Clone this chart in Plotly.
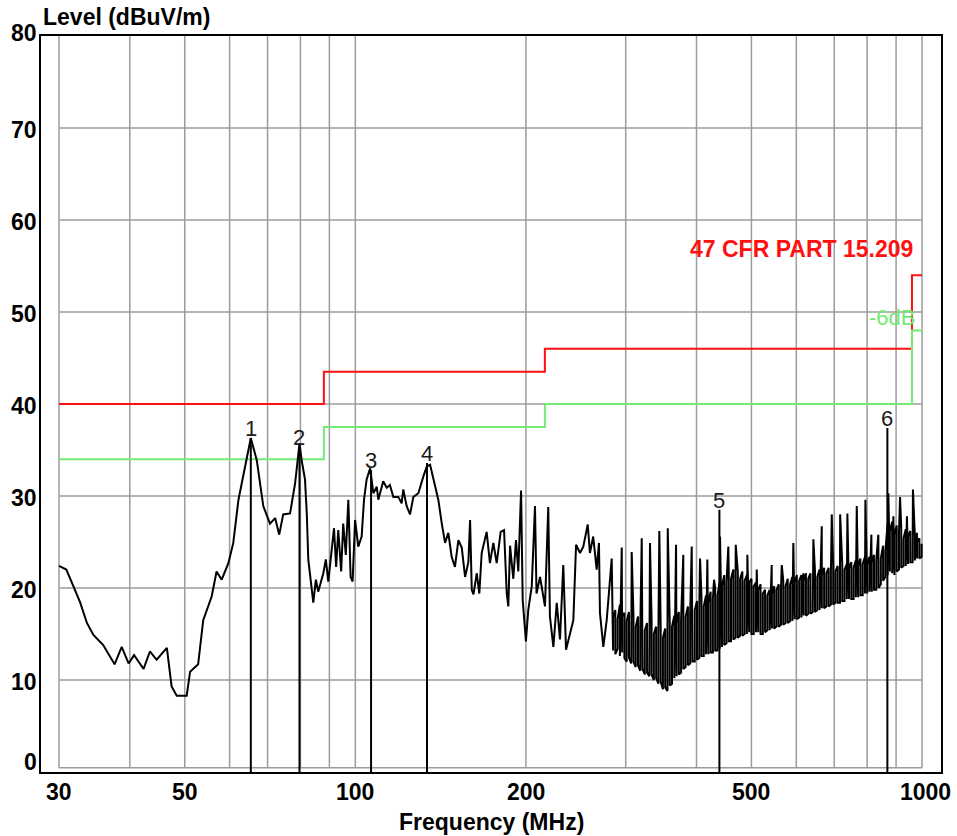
import math

import plotly.graph_objects as go

# measured trace below 285 MHz (MHz, dBuV/m), read point by point
freq_mhz = [
    30.0, 30.9, 31.8, 32.7, 33.6, 34.5, 35.9, 37.6, 38.7, 39.8, 40.7, 42.3, 43.4, 44.6, 46.5, 47.4,
    48.4, 50.4, 51.1, 52.8, 53.9, 55.8, 56.9, 58.1, 59.7, 60.9, 62.2, 63.9, 65.4, 67.0, 68.8, 70.7,
    72.2, 73.4, 74.6, 76.7, 78.3, 79.7, 80.4, 81.5, 82.1, 82.6, 83.8, 84.3, 85.2, 86.0, 87.8, 88.7,
    89.6, 90.9, 91.7, 92.5, 93.3, 94.4, 95.2, 96.2, 97.2, 98.1, 98.9, 99.9, 101.2, 102.6, 103.6, 104.7,
    106.2, 107.6, 109.1, 109.8, 112.0, 113.6, 115.1, 116.7, 119.1, 120.7, 121.5, 123.2, 124.9, 126.6, 129.2, 131.8,
    133.7, 135.5, 137.3, 138.3, 140.1, 142.1, 144.0, 145.9, 147.9, 149.9, 152.0, 154.1, 156.2, 158.3, 159.4, 160.5,
    161.6, 163.8, 165.5, 167.1, 170.5, 172.8, 175.2, 177.6, 180.5, 183.0, 185.0, 186.2, 187.5, 190.0, 192.1, 193.9,
    196.1, 197.4, 200.0, 201.9, 204.8, 207.5, 208.8, 211.8, 216.1, 219.0, 220.5, 223.6, 226.7, 229.7, 232.8, 235.4,
    239.3, 242.5, 245.2, 249.2, 252.5, 257.1, 259.4, 262.9, 266.6, 269.1, 270.2, 273.9, 277.7, 283.4,
]
level_dbuv = [
    22.4, 22.0, 20.2, 18.4, 16.2, 14.9, 13.8, 11.7, 13.6, 11.8, 12.7, 11.2, 13.1, 12.2, 13.5, 9.3,
    8.3, 8.3, 10.9, 11.7, 16.5, 19.1, 21.8, 20.9, 22.7, 24.9, 29.6, 33.2, 36.3, 33.9, 28.9, 27.0,
    27.6, 25.8, 28.0, 28.1, 31.4, 35.7, 33.9, 31.8, 28.1, 23.1, 19.4, 18.4, 20.9, 19.6, 21.6, 23.1,
    20.7, 24.5, 26.5, 22.3, 26.3, 21.8, 27.0, 23.6, 29.6, 21.2, 20.7, 27.4, 24.5, 25.6, 29.6, 31.8,
    33.0, 30.3, 31.0, 29.6, 31.6, 30.9, 31.2, 29.9, 29.9, 29.2, 30.7, 28.9, 28.0, 29.9, 30.3, 32.1,
    33.2, 33.4, 31.8, 30.9, 29.6, 27.0, 24.9, 26.0, 23.4, 22.3, 25.2, 24.4, 21.2, 22.8, 27.4, 19.8,
    19.3, 21.6, 19.4, 23.8, 26.1, 22.7, 24.9, 22.7, 26.1, 26.3, 19.4, 18.0, 24.6, 21.0, 25.2, 21.8,
    30.6, 18.7, 14.2, 17.6, 20.2, 28.9, 19.4, 21.2, 18.0, 28.8, 16.9, 13.6, 18.4, 14.4, 22.5, 13.3,
    15.1, 16.5, 24.7, 23.8, 24.5, 26.9, 23.8, 25.6, 22.0, 24.9, 17.3, 13.6, 16.5, 23.2,
]

# 285-1000 MHz: dense noise band, max / min reading per display column
band_freq = [
    285.0, 287.6, 290.3, 293.0, 295.7, 298.4, 301.2, 304.0,
    306.8, 309.6, 312.5, 315.4, 318.3, 321.2, 324.2, 327.2,
    330.2, 333.3, 336.4, 339.5, 342.6, 345.8, 349.0, 352.2,
    355.5, 358.8, 362.1, 365.5, 368.9, 372.3, 375.7, 379.2,
    382.7, 386.3, 389.8, 393.4, 397.1, 400.8, 404.5, 408.2,
    412.0, 415.8, 419.7, 423.6, 427.5, 431.5, 435.5, 439.5,
    443.6, 447.7, 451.8, 456.0, 460.2, 464.5, 468.8, 473.1,
    477.5, 481.9, 486.4, 490.9, 495.5, 500.1, 504.7, 509.4,
    514.1, 518.9, 523.7, 528.5, 533.4, 538.4, 543.4, 548.4,
    553.5, 558.6, 563.8, 569.0, 574.3, 579.6, 585.0, 590.4,
    595.9, 601.4, 607.0, 612.6, 618.3, 624.0, 629.8, 635.6,
    641.5, 647.4, 653.4, 659.5, 665.6, 671.8, 678.0, 684.3,
    690.6, 697.0, 703.5, 710.0, 716.6, 723.2, 729.9, 736.7,
    743.5, 750.4, 757.3, 764.3, 771.4, 778.6, 785.8, 793.1,
    800.4, 807.8, 815.3, 822.8, 830.4, 838.1, 845.9, 853.7,
    861.6, 869.6, 877.6, 885.8, 894.0, 902.2, 910.6, 919.0,
    927.5, 936.1, 944.8, 953.5, 962.3, 971.2, 980.2, 989.3,
    998.5,
]
band_hi = [
    16.8, 17.6, 16.6, 18.2, 16.9, 17.3, 16.4, 17.4,
    16.2, 17.0, 15.8, 16.9, 15.6, 16.6, 15.4, 16.2,
    15.2, 16.4, 15.0, 15.8, 14.8, 15.9, 14.6, 15.6,
    15.2, 16.2, 15.8, 17.0, 16.2, 17.4, 16.6, 17.8,
    16.9, 18.0, 17.2, 18.4, 17.6, 18.6, 17.8, 19.0,
    18.0, 19.2, 18.4, 19.6, 18.8, 20.0, 19.2, 20.6,
    20.2, 21.4, 20.6, 21.8, 21.0, 22.0, 21.2, 21.8,
    21.0, 21.8, 20.8, 21.4, 20.6, 21.0, 20.2, 20.6,
    19.8, 20.4, 19.4, 19.8, 19.2, 19.8, 19.4, 20.2,
    19.8, 20.4, 20.0, 20.8, 20.2, 21.0, 20.4, 21.2,
    20.6, 21.4, 20.8, 21.4, 20.8, 21.6, 21.0, 21.6,
    21.2, 21.8, 21.2, 22.0, 21.4, 22.2, 21.6, 22.2,
    21.6, 22.4, 21.8, 22.4, 21.8, 22.6, 22.0, 22.6,
    22.2, 22.8, 22.2, 23.0, 22.4, 23.2, 22.6, 23.4,
    22.6, 23.4, 22.8, 23.6, 23.0, 23.8, 23.2, 24.6,
    24.0, 27.0, 26.2, 27.2, 25.8, 26.8, 26.0, 26.6,
    25.4, 26.4, 25.6, 26.2, 25.0, 25.8, 25.0, 25.4,
    24.8,
]
band_lo = [
    13.2, 12.8, 13.4, 12.6, 13.0, 12.4, 12.0, 12.4,
    11.8, 12.0, 11.4, 11.6, 11.0, 11.2, 10.6, 10.8,
    10.4, 10.6, 10.0, 10.2, 9.6, 9.8, 9.0, 9.2,
    8.8, 9.4, 9.6, 10.2, 10.4, 10.6, 10.8, 11.2,
    11.4, 11.6, 11.8, 12.0, 12.0, 12.2, 12.4, 12.6,
    12.6, 12.8, 12.8, 13.0, 13.0, 13.2, 13.2, 13.4,
    13.6, 13.8, 14.0, 14.2, 14.2, 14.4, 14.6, 14.6,
    14.8, 14.8, 15.0, 15.0, 15.2, 15.0, 15.0, 15.2,
    15.2, 15.0, 15.0, 15.2, 15.4, 15.4, 15.6, 15.6,
    15.8, 15.8, 16.0, 16.0, 16.2, 16.2, 16.4, 16.4,
    16.6, 16.6, 16.8, 16.8, 17.0, 17.0, 17.2, 17.2,
    17.4, 17.4, 17.6, 17.6, 17.8, 17.8, 18.0, 18.0,
    18.2, 18.2, 18.4, 18.4, 18.4, 18.6, 18.6, 18.8,
    18.8, 18.8, 18.8, 19.0, 19.0, 19.2, 19.2, 19.4,
    19.4, 19.6, 19.6, 19.8, 19.8, 20.0, 20.4, 20.8,
    21.2, 21.4, 21.8, 21.6, 21.4, 21.8, 22.0, 22.2,
    22.4, 22.4, 22.6, 22.8, 22.8, 23.0, 23.2, 23.2,
    23.4,
]
# narrow-band harmonics sticking out of the band
spike_freq = [
    295.2, 307.4, 320.2, 331.1, 343.9, 355.9, 368.1, 379.1, 392.3, 405.8, 418.0, 429.5,
    440.1, 455.2, 469.1, 491.8, 510.9, 542.9, 565.6, 592.8, 617.4, 643.1, 665.4, 693.0,
    717.0, 738.4, 767.1, 794.5, 814.0, 837.4, 872.2, 890.1, 914.6, 940.6, 963.8, 979.6,
]
spike_level = [
    24.4, 23.9, 25.4, 24.9, 26.2, 26.5, 24.7, 23.6, 24.5, 23.2, 23.1, 20.9,
    25.6, 24.5, 24.7, 23.6, 22.0, 22.5, 22.5, 24.9, 21.6, 25.3, 26.7, 28.0,
    28.0, 28.1, 28.9, 29.6, 25.8, 25.8, 30.3, 27.8, 29.9, 27.8, 30.7, 26.0,
]

# FCC 15.209 limit and the -6 dB margin line (step breakpoints)
limit_freq = [30, 88, 216, 960, 1000]
limit_level = [40.0, 43.5, 46.0, 54.0, 54.0]
margin_level = [34.0, 37.5, 40.0, 48.0, 48.0]

marker_no = ["1", "2", "3", "4", "5", "6"]
marker_freq = [65.4, 79.7, 106.6, 133.8, 439.0, 868.7]
marker_level = [36.3, 35.3, 32.8, 33.6, 28.5, 37.4]

x_grid = [30, 40, 50, 60, 70, 80, 90, 100, 200, 300, 400, 500, 600, 700, 800, 900, 1000]
y_grid = [10, 20, 30, 40, 50, 60, 70]
x_ticks = [30, 50, 100, 200, 500, 1000]
y_ticks = [0, 10, 20, 30, 40, 50, 60, 70, 80]

GRID_FLOOR = 0.45
FONT = "Liberation Sans, Arial, sans-serif"
RED = "#ff1010"
GREEN = "#74ea74"

# band columns drawn as vertical min/max strokes, spikes merged in by frequency
pts = []
for i, (f, hi, lo) in enumerate(zip(band_freq, band_hi, band_lo)):
    for v in ([lo, hi] if i % 2 == 0 else [hi, lo]):
        pts.append((f, v))
pts += list(zip(spike_freq, spike_level))
pts.sort(key=lambda p: p[0])
trace_x = freq_mhz + [p[0] for p in pts]
trace_y = level_dbuv + [p[1] for p in pts]

fig = go.Figure()

# grid box (inset from the frame like the receiver software draws it)
gx, gy = [], []
for f in x_grid:
    gx += [f, f, None]
    gy += [GRID_FLOOR, 80, None]
for v in y_grid + [GRID_FLOOR]:
    gx += [x_grid[0], x_grid[-1], None]
    gy += [v, v, None]
fig.add_trace(go.Scatter(x=gx, y=gy, mode="lines", line=dict(color="#9c9c9c", width=1.5), hoverinfo="skip"))

fig.add_trace(go.Scatter(x=limit_freq, y=limit_level, mode="lines", line=dict(color=RED, width=2, shape="hv")))
fig.add_trace(go.Scatter(x=limit_freq, y=margin_level, mode="lines", line=dict(color=GREEN, width=2, shape="hv")))

fig.add_trace(go.Scatter(x=trace_x, y=trace_y, mode="lines", line=dict(color="black", width=2)))

mx, my = [], []
for f, lv in zip(marker_freq, marker_level):
    mx += [f, f, None]
    my += [0, lv, None]
fig.add_trace(go.Scatter(x=mx, y=my, mode="lines", line=dict(color="black", width=2)))

for n, f, lv in zip(marker_no, marker_freq, marker_level):
    fig.add_annotation(x=math.log10(f), y=lv, text=n, showarrow=False, yanchor="bottom", yshift=-5,
                       font=dict(family=FONT, size=22, color="#1a1a1a"))

for v in y_ticks:
    shift = 10 if v == 0 else (3 if v == 80 else -2)
    fig.add_annotation(xref="paper", x=0, y=v, text=f"<b>{v}</b>", showarrow=False, xanchor="right",
                       xshift=-2, yshift=shift, font=dict(family=FONT, size=23, color="black"))
for v in x_ticks:
    fig.add_annotation(x=math.log10(v), yref="paper", y=0, text=f"<b>{v}</b>", showarrow=False,
                       yanchor="middle", yshift=-20, xshift=3 if v == 1000 else 0,
                       font=dict(family=FONT, size=23, color="black"))

fig.add_annotation(xref="paper", yref="paper", x=0, y=1, text="<b>Level (dBuV/m)</b>", showarrow=False,
                   xanchor="left", yanchor="middle", yshift=19, font=dict(family=FONT, size=23, color="black"))
fig.add_annotation(xref="paper", yref="paper", x=0.501, y=0, text="<b>Frequency (MHz)</b>", showarrow=False,
                   xanchor="center", yanchor="middle", yshift=-50, font=dict(family=FONT, size=23, color="black"))
fig.add_annotation(x=math.log10(960), y=56.8, text="<b>47 CFR PART 15.209</b>", showarrow=False,
                   xanchor="right", yanchor="middle", xshift=3, font=dict(family=FONT, size=23, color=RED))
fig.add_annotation(x=math.log10(960), y=49.4, text="-6dB", showarrow=False,
                   xanchor="right", yanchor="middle", xshift=5, font=dict(family=FONT, size=22, color=GREEN))

axis_style = dict(showgrid=False, zeroline=False, showticklabels=False, ticks="",
                  showline=True, mirror=True, linecolor="black", linewidth=2)
fig.update_xaxes(type="log", range=[math.log10(30) - 0.0318, 3.0335], **axis_style)
fig.update_yaxes(range=[0, 80], **axis_style)

fig.update_layout(
    width=957, height=836,
    margin=dict(l=41, r=16, t=36, b=64, pad=0),
    paper_bgcolor="white", plot_bgcolor="white",
    showlegend=False,
)

fig.write_html("out.html", config={"displayModeBar": False},
               post_script="document.body.style.margin = '0';")
